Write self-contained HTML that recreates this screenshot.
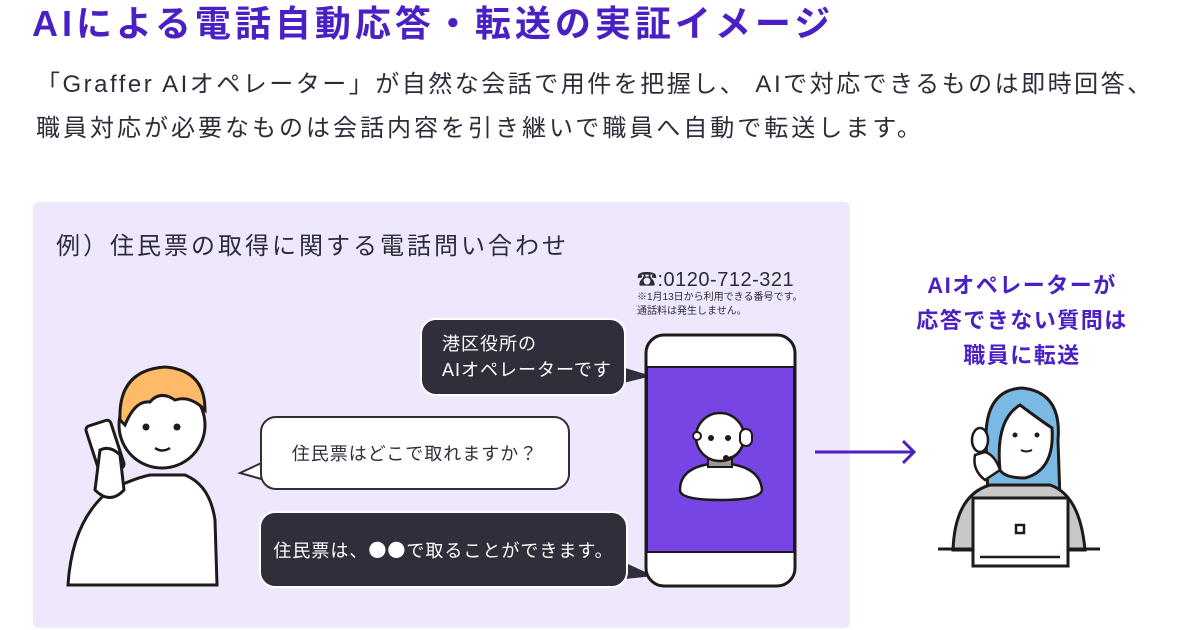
<!DOCTYPE html>
<html><head><meta charset="utf-8"><style>
*{margin:0;padding:0;box-sizing:border-box}
body{width:1200px;height:630px;background:#fff;position:relative;overflow:hidden;font-family:"Liberation Sans","Noto Sans CJK JP",sans-serif;color:#2a2a33}
.a{position:absolute;white-space:nowrap}
.title{left:32px;top:-5px;font-size:36px;font-weight:bold;color:#4a1fc4;letter-spacing:4px}
.sub{left:36px;font-size:24px;color:#2b2d38;letter-spacing:3px}
.panel{left:33px;top:202px;width:817px;height:426px;background:#efe8fd;border-radius:6px}
.bub{position:absolute;border-radius:16px;font-size:18px;letter-spacing:1px;display:flex;align-items:center}
.dark{background:#302e3a;color:#fff;border:2px solid #fff}
.white{background:#fff;border:2px solid #302e3a;color:#302e3a}
.rt{left:890px;width:264px;text-align:center;font-size:22px;letter-spacing:1.5px;font-weight:bold;color:#4a1fc4;line-height:35px;top:268px}
</style></head><body>
<div class="a title">AIによる電話自動応答・転送の実証イメージ</div>
<div class="a sub" style="top:64px;letter-spacing:2.5px">「Graffer AIオペレーター」が自然な会話で用件を把握し、 AIで対応できるものは即時回答、</div>
<div class="a sub" style="top:108px">職員対応が必要なものは会話内容を引き継いで職員へ自動で転送します。</div>
<div class="a panel"></div>
<div class="a" style="left:56px;top:226px;font-size:24px;letter-spacing:3px;color:#2b2d38">例）住民票の取得に関する電話問い合わせ</div>
<div class="a" style="left:637px;top:263px;font-size:20px;letter-spacing:0.5px;color:#2b2d38">☎:0120-712-321</div>
<div class="a" style="left:637px;top:291px;font-size:10px;line-height:14px;color:#2b2d38">※1月13日から利用できる番号です。<br>通話料は発生しません。</div>

<svg class="a" style="left:0;top:0" width="1200" height="630">
 <polygon points="615,365 652,376 615,385" fill="#302e3a"/>
 <polygon points="272,458 240,473 272,482" fill="#fff" stroke="#302e3a" stroke-width="2"/>
 <polygon points="615,558 654,576 615,580" fill="#302e3a"/>
 <rect x="646" y="335" width="149" height="251" rx="18" fill="#fff" stroke="#1e1a1a" stroke-width="3"/>
 <rect x="647" y="367" width="147" height="185" fill="#7645e3" stroke="#1e1a1a" stroke-width="2"/>
 <path d="M680,490 Q680,465 720,463 Q760,465 762,490 Q760,500 720,500 Q680,500 680,490Z" fill="#fff" stroke="#1e1a1a" stroke-width="2.5"/>
 <rect x="708" y="455" width="24" height="12" fill="#999" stroke="#1e1a1a" stroke-width="2"/>
 <circle cx="720" cy="437" r="24" fill="#fff" stroke="#1e1a1a" stroke-width="2.5"/>
 <rect x="740" y="429" width="12" height="17" rx="6" fill="#fff" stroke="#1e1a1a" stroke-width="2"/>
 <circle cx="697" cy="436" r="4" fill="#fff" stroke="#1e1a1a" stroke-width="2"/>
 <circle cx="711" cy="438" r="3" fill="#1e1a1a"/><circle cx="728" cy="438" r="3" fill="#1e1a1a"/>
 <path d="M742,446 Q738,456 728,458" fill="none" stroke="#1e1a1a" stroke-width="2"/>
 <circle cx="726" cy="458" r="3" fill="#1e1a1a"/>
 <line x1="815" y1="452" x2="913" y2="452" stroke="#4a1fc4" stroke-width="3"/>
 <polyline points="903,441 914,452 903,463" fill="none" stroke="#4a1fc4" stroke-width="3"/>
 <path d="M68,585 Q72,520 110,490 Q135,478 150,475 L185,475 Q210,485 215,520 L217,585Z" fill="#fff" stroke="#1e1a1a" stroke-width="3"/>
 <circle cx="162" cy="425" r="43" fill="#fff" stroke="#1e1a1a" stroke-width="3"/>
 <path d="M120,420 Q118,370 165,367 Q205,370 205,410 Q190,395 175,400 Q160,390 150,402 Q135,400 125,425Z" fill="#fdba68" stroke="#1e1a1a" stroke-width="3"/>
 <circle cx="146" cy="427" r="3.5" fill="#1e1a1a"/><circle cx="177" cy="427" r="3.5" fill="#1e1a1a"/>
 <path d="M155,448 Q162,453 170,448" fill="none" stroke="#1e1a1a" stroke-width="2.5"/>
 <rect x="92" y="422" width="26" height="50" rx="4" transform="rotate(-18 105 447)" fill="#fff" stroke="#1e1a1a" stroke-width="3"/>
 <path d="M100,450 Q110,445 120,455 L124,490 Q110,505 95,490Z" fill="#fff" stroke="#1e1a1a" stroke-width="3"/>
 <path d="M986,440 Q985,390 1022,388 Q1062,392 1058,440 L1060,500 L988,500Z" fill="#7ab9e3" stroke="#1e1a1a" stroke-width="3"/>
 <path d="M953,550 Q955,495 990,485 L1050,485 Q1080,495 1085,550Z" fill="#c8c8c8" stroke="#1e1a1a" stroke-width="3"/>
 <path d="M1000,470 Q995,420 1020,405 Q1040,420 1052,428 Q1055,470 1025,478 Q1005,478 1000,470Z" fill="#fff" stroke="#1e1a1a" stroke-width="3"/>
 <circle cx="1015" cy="435" r="2.5" fill="#1e1a1a"/><circle cx="1037" cy="435" r="2.5" fill="#1e1a1a"/>
 <path d="M1021,450 Q1026,453 1032,450" fill="none" stroke="#1e1a1a" stroke-width="2"/>
 <ellipse cx="980" cy="440" rx="8" ry="12" fill="#fff" stroke="#1e1a1a" stroke-width="2.5"/>
 <path d="M975,455 Q972,470 985,480 L1000,470 Q995,455 985,452Z" fill="#fff" stroke="#1e1a1a" stroke-width="2.5"/>
 <line x1="938" y1="549" x2="1100" y2="549" stroke="#1e1a1a" stroke-width="3"/>
 <rect x="973" y="498" width="95" height="68" fill="#fff" stroke="#1e1a1a" stroke-width="3"/>
 <rect x="1016" y="525" width="8" height="8" fill="#fff" stroke="#1e1a1a" stroke-width="2.5"/>
 <line x1="980" y1="557" x2="1060" y2="557" stroke="#1e1a1a" stroke-width="2.5"/>
</svg>

<div class="bub dark" style="left:420px;top:318px;width:206px;height:78px;padding-left:20px;line-height:26px">港区役所の<br>AIオペレーターです</div>
<div class="bub white" style="left:260px;top:416px;width:310px;height:74px;justify-content:center">住民票はどこで取れますか？</div>
<div class="bub dark" style="left:259px;top:511px;width:369px;height:77px;justify-content:center">住民票は、<span style="font-family:'Noto Sans CJK JP',sans-serif">●●</span>で取ることができます。</div>
<div class="a rt">AIオペレーターが<br>応答できない質問は<br>職員に転送</div>
</body></html>
